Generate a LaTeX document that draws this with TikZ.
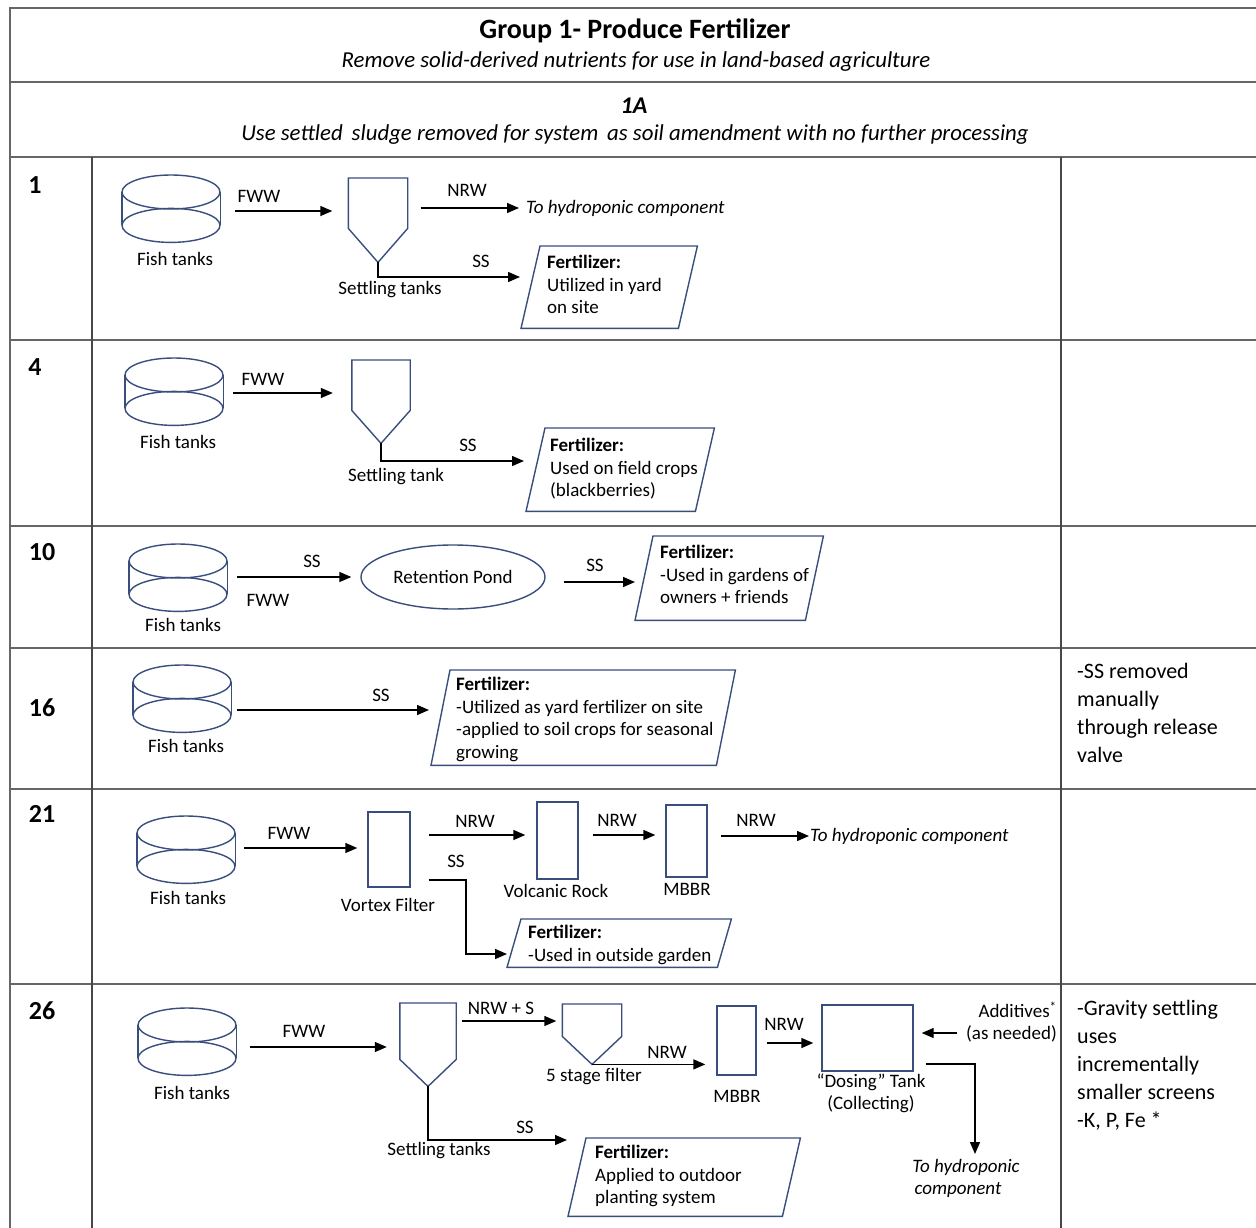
\documentclass[tikz,border=0pt]{standalone}
\usepackage{fontspec}
\setmainfont{Carlito}
\usetikzlibrary{arrows.meta,calc,shapes.geometric}

\definecolor{shapeblue}{HTML}{3A4E7E}
\definecolor{rulegray}{HTML}{666666}

\tikzset{
  shp/.style={draw=shapeblue, line width=1.4pt},
  arr/.style={draw=black, line width=1.4pt, -{Triangle[length=12pt,width=10pt]}},
  lbl/.style={font=\fontsize{19}{22}\selectfont, inner sep=0pt},
  ilbl/.style={font=\fontsize{19}{22}\selectfont\itshape, inner sep=0pt},
  ftxt/.style={font=\fontsize{19}{22.5}\selectfont, align=left, inner sep=0pt, anchor=north west},
  note/.style={font=\fontsize{22}{28}\selectfont, align=left, inner sep=0pt, anchor=north west},
  rownum/.style={font=\fontsize{26}{28}\selectfont\bfseries, inner sep=0pt},
  tankbox/.style={minimum width=98pt, minimum height=67pt, inner sep=0pt, anchor=north},
  unitbox/.style={shp, rectangle, inner sep=0pt},
  gridline/.style={draw=rulegray, line width=2.6pt},
  colline/.style={draw=rulegray!70!black, line width=2.2pt},
}

% fish tank cylinder: name, centre x, top y
\newcommand\fishtank[3]{%
  \node[tankbox] (#1) at (#2,#3) {};
  \draw[shp] ($(#1.north)+(0,17)$) ellipse [x radius=49pt, y radius=17pt];
  \draw[shp] ($(#1.south)+(0,-17)$) ellipse [x radius=49pt, y radius=17pt];
  \draw[shp] ($(#1.north west)+(0,17)$) -- ($(#1.south west)+(0,-17)$);
  \draw[shp] ($(#1.north east)+(0,17)$) -- ($(#1.south east)+(0,-17)$);
}
% settling funnel: name, centre x, top y, width, height to tip, depth of the cone
\newcommand\funnel[6]{%
  \node[minimum width=#4pt, minimum height=#5pt, inner sep=0pt, anchor=north] (#1) at (#2,#3) {};
  \draw[shp] (#1.north west) -- ($(#1.south west)+(0,-#6)$) -- (#1.south)
    -- ($(#1.south east)+(0,-#6)$) -- (#1.north east) -- cycle;
}
% slanted product box: name, bottom-left x, top y, width, height, slant
\newcommand\fertbox[6]{%
  \node[minimum width=#4pt, minimum height=#5pt, inner sep=0pt, anchor=north west] (#1) at (#2,#3) {};
  \draw[shp] ($(#1.north west)+(#6,0)$) -- (#1.north east)
    -- ($(#1.south east)+(-#6,0)$) -- (#1.south west) -- cycle;
}

\begin{document}
\begin{tikzpicture}[x=1pt,y=-1pt]
\useasboundingbox (0,0) rectangle (1256,1228);
\fill[white] (0,0) rectangle (1256,1228);

% ---------- table rules ----------
\draw[draw=rulegray, line width=1.2pt] (10,1228) -- (10,8) -- (1256,8);
\foreach \yy in {82,157,340,526,648,789,984}
  \draw[gridline] (10,\yy) -- (1256,\yy);
\draw[colline] (92,157) -- (92,1228);
\draw[colline] (1061,157) -- (1061,1228);

% ---------- headings ----------
\node[font=\fontsize{28}{30}\selectfont\bfseries, inner sep=0pt] (title) at (635,31) {Group 1- Produce Fertilizer};
\node[font=\fontsize{22.8}{26}\selectfont\itshape, inner sep=0pt] (subtitle) at (636,62) {Remove solid-derived nutrients for use in land-based agriculture};
\node[font=\fontsize{24}{26}\selectfont\bfseries\itshape, inner sep=0pt] (sub1a) at (634,106) {1A};
\node[font=\fontsize{22.8}{26}\selectfont\itshape, inner sep=0pt] (sub1adesc) at (635,135) {Use settled\, sludge removed for system\, as soil amendment with no further processing};

% ---------- row numbers ----------
\node[rownum] (n1) at (35,185) {1};
\node[rownum] (n4) at (35,367) {4};
\node[rownum] (n10) at (42,552) {10};
\node[rownum] (n16) at (42,708) {16};
\node[rownum] (n21) at (42,814) {21};
\node[rownum] (n26) at (42,1011) {26};

% ---------- row 1 ----------
\fishtank{ftA}{171}{175}
\node[lbl] (ftAl) at (175,259) {Fish tanks};
\funnel{stA}{378}{178}{59}{84}{34}
\node[lbl] (stAl) at (390,290) {Settling tanks};
\fertbox{fA}{521}{246}{176}{82}{19}
\node[ftxt] (fAt) at (547,255) {\textbf{Fertilizer:}\\Utilized in yard\\on site};
\node[ilbl, anchor=west] (hyA) at (526,208) {To hydroponic component};
\coordinate (fAin) at (520,277);
\draw[arr, shorten <=15pt, shorten >=16pt] (ftA.east |- 0,211) -- (stA.west |- 0,211);
\node[lbl] (fwwA) at (259,196) {FWW};
\draw[arr, shorten <=13pt, shorten >=7pt] (stA.east |- hyA.west) -- (hyA.west);
\node[lbl] (nrwA) at (467,190) {NRW};
\draw[arr] (stA.south) |- (fAin);
\node[lbl] (ssA) at (481,261) {SS};

% ---------- row 4 ----------
\fishtank{ftB}{174}{358}
\node[lbl] (ftBl) at (178,442) {Fish tanks};
\funnel{stB}{381}{360}{58}{83}{33}
\node[lbl] (stBl) at (396,477) {Settling tank};
\fertbox{fB}{526}{428}{188}{83}{19}
\node[ftxt] (fBt) at (550,438) {\textbf{Fertilizer:}\\Used on field crops\\(blackberries)};
\coordinate (fBin) at (524,461);
\draw[arr, shorten <=10pt, shorten >=19pt] (ftB.east |- 0,393) -- (stB.west |- 0,393);
\node[lbl] (fwwB) at (263,379) {FWW};
\draw[arr] (stB.south) |- (fBin);
\node[lbl] (ssB) at (468,445) {SS};

% ---------- row 10 ----------
\fishtank{ftC}{178}{544}
\node[lbl] (ftCl) at (183,625) {Fish tanks};
\node[shp, ellipse, minimum width=184pt, minimum height=64pt, inner sep=0pt,
      font=\fontsize{19}{22}\selectfont] (pond) at (453,577) {Retention Pond};
\fertbox{fC}{635}{536}{188}{84}{18}
\node[ftxt] (fCt) at (660,545) {\textbf{Fertilizer:}\\-Used in gardens of\\owners + friends};
\draw[arr, shorten <=10pt, shorten >=9pt] (ftC.east |- pond.west) -- (pond.west);
\node[lbl] (ssC1) at (312,561) {SS};
\node[lbl] (fwwC) at (268,600) {FWW};
\coordinate (fCin) at (635,582);
\draw[arr, shorten <=18pt] (pond.east |- fCin) -- (fCin);
\node[lbl] (ssC2) at (595,565) {SS};

% ---------- row 16 ----------
\fishtank{ftD}{182}{665}
\node[lbl] (ftDl) at (186,746) {Fish tanks};
\fertbox{fD}{431}{670}{304}{95}{19}
\node[ftxt] (fDt) at (456,677) {\textbf{Fertilizer:}\\-Utilized as yard fertilizer on site\\-applied to soil crops for seasonal\\growing};
\coordinate (fDin) at (429,710);
\draw[arr, shorten <=6pt] (ftD.east |- fDin) -- (fDin);
\node[lbl] (ssD) at (381,695) {SS};
\node[note] (noteD) at (1077,663) {-SS removed\\manually\\through release\\valve};

% ---------- row 21 ----------
\fishtank{ftE}{186}{816}
\node[lbl] (ftEl) at (188,898) {Fish tanks};
\node[unitbox, minimum width=42pt, minimum height=75pt] (vortex) at (389,849.5) {};
\node[lbl] (vortexl) at (388,905) {Vortex Filter};
\node[unitbox, minimum width=41pt, minimum height=77pt] (rock) at (557.5,840.5) {};
\node[lbl] (rockl) at (556,891) {Volcanic Rock};
\node[unitbox, minimum width=41pt, minimum height=72pt] (mbbrE) at (686.5,841) {};
\node[lbl] (mbbrEl) at (687,889) {MBBR};
\node[ilbl, anchor=west] (hyE) at (810,836) {To hydroponic component};
\fertbox{fE}{507}{919}{224}{48}{14}
\node[ftxt] (fEt) at (528,925) {\textbf{Fertilizer:}\\-Used in outside garden};
\draw[arr, shorten <=9pt, shorten >=10pt] (ftE.east |- 0,848) -- (vortex.west |- 0,848);
\node[lbl] (fwwE) at (289,833) {FWW};
\draw[arr, shorten <=18pt, shorten >=11pt] (vortex.east |- 0,835) -- (rock.west |- 0,835);
\node[lbl] (nrwE1) at (475,821) {NRW};
\draw[arr, shorten <=14pt, shorten >=10pt] (rock.east |- 0,835) -- (mbbrE.west |- 0,835);
\node[lbl] (nrwE2) at (617,820) {NRW};
\draw[arr, shorten <=13pt, shorten >=1pt] (mbbrE.east |- hyE.west) -- (hyE.west);
\node[lbl] (nrwE3) at (756,820) {NRW};
\coordinate (fEin) at (507,954);
\draw[arr] ($(vortex.east |- 0,880)+(18,0)$) -- (466,880) |- (fEin);
\node[lbl] (ssE) at (456,861) {SS};

% ---------- row 26 ----------
\fishtank{ftF}{187}{1008}
\node[lbl] (ftFl) at (192,1093) {Fish tanks};
\funnel{stF}{428}{1003}{56}{83}{27}
\node[lbl] (stFl) at (439,1151) {Settling tanks};
\funnel{filt}{592}{1004}{59}{60}{28}
\node[lbl] (filtl) at (594,1077) {5 stage filter};
\node[unitbox, minimum width=39pt, minimum height=69pt] (mbbrF) at (736.5,1040.5) {};
\node[lbl] (mbbrFl) at (737,1096) {MBBR};
\node[unitbox, minimum width=91pt, minimum height=66pt] (dose) at (867.5,1038) {};
\node[lbl] (dosel1) at (871,1082) {“Dosing” Tank};
\node[lbl] (dosel2) at (871,1104) {(Collecting)};
\node[lbl, align=right, anchor=east, font=\fontsize{19}{22}\selectfont] (addv) at (1057,1022) {Additives\textsuperscript{*}\\(as needed)};
\fertbox{fF}{568}{1138}{232}{78}{18}
\node[ftxt] (fFt) at (595,1145) {\textbf{Fertilizer:}\\Applied to outdoor\\planting system};
\node[ilbl, align=center, anchor=north] (hyF) at (966,1159) {To hydroponic\\\hspace*{-16pt}component};

\draw[arr, shorten <=14pt, shorten >=13pt] (ftF.east |- 0,1047) -- (stF.west |- 0,1047);
\node[lbl] (fwwF) at (304,1031) {FWW};
\draw[arr, shorten <=6pt, shorten >=6pt] (stF.east |- 0,1021) -- (filt.west |- 0,1021);
\node[lbl] (nrwsF) at (501,1008) {NRW + S};
\draw[arr, shorten >=11pt] (filt.south) -- (mbbrF.west |- filt.south);
\node[lbl] (nrwF1) at (667,1052) {NRW};
\draw[arr, shorten <=10pt, shorten >=8pt] (mbbrF.east |- 0,1043) -- (dose.west |- 0,1043);
\node[lbl] (nrwF2) at (784,1024) {NRW};
\draw[arr, shorten <=9pt] (addv.west |- 0,1033) -- ($(dose.east |- 0,1033)+(8,0)$);
\coordinate (hyFin) at (975,1154);
\draw[arr] ($(dose.east |- 0,1064)+(12,0)$) -| (hyFin);
\coordinate (fFin) at (567,1140);
\draw[arr] (stF.south) |- (fFin);
\node[lbl] (ssF) at (525,1127) {SS};
\node[note] (noteF) at (1077,1000) {-Gravity settling\\uses\\incrementally\\smaller screens\\-K, P, Fe *};

\end{tikzpicture}
\end{document}
